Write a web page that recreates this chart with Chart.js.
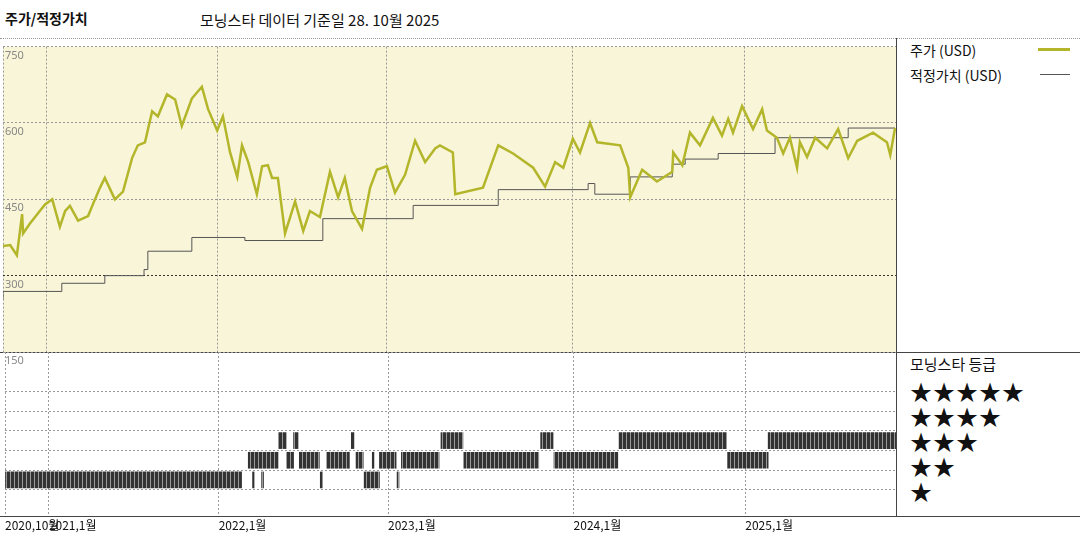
<!DOCTYPE html>
<html>
<head>
<meta charset="utf-8">
<script src="https://cdn.jsdelivr.net/npm/chart.js@4"></script>
<style>
  body { margin:0; width:1080px; height:540px; background:#fff; position:relative; overflow:hidden;
         font-family:"Noto Sans CJK KR","Noto Sans",sans-serif; color:#111; }
  .abs { position:absolute; }
  .txt { font-size:14px; white-space:nowrap; }
  .star { font-size:22px; letter-spacing:1px; line-height:22px; }
</style>
</head>
<body>
<div class="abs txt" style="left:5px;top:8px;font-weight:bold;">주가/적정가치</div>
<div class="abs txt" style="left:200px;top:9px;font-size:15px;">모닝스타 데이터 기준일 28. 10월 2025</div>

<!-- frame lines -->
<div class="abs" style="left:0;top:38px;width:1080px;border-top:1px dotted #999;"></div>
<div class="abs" style="left:0;top:352px;width:1080px;border-top:1px solid #444;"></div>
<div class="abs" style="left:0;top:516px;width:1080px;border-top:1px solid #444;"></div>
<div class="abs" style="left:896px;top:38px;height:478px;border-left:1px solid #444;"></div>

<!-- legend -->
<div class="abs txt" style="left:910px;top:40px;">주가 (USD)</div>
<div class="abs" style="left:1038px;top:48px;width:32px;border-top:3px solid #b3b62a;"></div>
<div class="abs txt" style="left:910px;top:65px;">적정가치 (USD)</div>
<div class="abs" style="left:1040px;top:74px;width:30px;border-top:1px solid #555;"></div>
<div class="abs txt" style="left:910px;top:353px;font-size:15px;">모닝스타 등급</div>
<div class="abs star" style="left:910px;top:379px;">★★★★★</div>
<div class="abs star" style="left:910px;top:404px;">★★★★</div>
<div class="abs star" style="left:910px;top:429px;">★★★</div>
<div class="abs star" style="left:910px;top:454px;">★★</div>
<div class="abs star" style="left:910px;top:479px;">★</div>

<canvas id="bottomChart" class="abs" style="left:3px;top:352px;width:893px;height:188px;"></canvas>
<canvas id="topChart" class="abs" style="left:3px;top:38px;width:893px;height:332px;"></canvas>

<script>
// x values are days since 2020-10-01
const tickDays = [0, 92, 448, 803, 1192, 1552];
const tickLabels = ['2020,10월', '2021,1월', '2022,1월', '2023,1월', '2024,1월', '2025,1월'];

const priceDays = [0,15,29,40,42,56,77,88,103,119,130,140,157,178,188,203,213,234,251,270,282,297,312,324,343,360,374,395,416,429,448,460,475,490,500,513,531,542,554,563,575,590,611,628,642,663,684,701,715,730,751,768,782,803,820,841,862,883,904,914,941,946,1004,1036,1067,1109,1134,1155,1172,1192,1207,1228,1243,1291,1308,1312,1337,1368,1400,1402,1421,1437,1458,1485,1504,1517,1527,1546,1569,1588,1598,1619,1632,1646,1661,1667,1682,1699,1724,1747,1768,1787,1820,1849,1856,1866];
const priceValues = [358,360,340,421,383,402,427,440,450,396,427,437,408,417,440,473,492,450,465,531,556,562,623,613,656,646,594,648,671,627,585,613,542,494,556,523,460,515,517,492,492,383,446,388,427,415,504,454,492,427,392,473,508,515,463,498,565,523,550,556,542,460,473,556,540,512,475,523,512,569,542,600,562,556,512,454,508,485,504,542,517,581,556,610,575,608,581,633,588,627,585,571,540,571,512,562,533,571,550,588,531,565,581,562,537,590];

const fairDays = [0,123,213,295,303,395,506,669,858,1036,1224,1238,1312,1400,1427,1496,1615,1768,1845,1866];
const fairValues = [254,269,285,300,312,348,375,369,412,438,469,481,460,494,519,529,540,571,590,590];

// star rating periods: [startDay, endDay]
const rating1 = [[0,496],[519,523],[538,542],[661,666],[753,785],[822,826]];
const rating2 = [[510,573],[590,605],[617,659],[674,722],[736,751],[770,774],[785,820],[831,910],[962,1119],[1151,1285],[1515,1600]];
const rating3 = [[573,590],[605,615],[726,732],[914,960],[1123,1149],[1287,1513],[1600,1868]];

const xMax = 1868;
const priceTicks = [150, 300, 450, 600, 750];

const yearGrid = { color: '#999', drawTicks: false };
const dashBorder = { display: false, dash: [2, 2] };

const bgPlugin = {
    id: 'bg',
    beforeDraw(chart, args, opts) {
        const a = chart.chartArea;
        chart.ctx.save();
        chart.ctx.fillStyle = opts.color;
        chart.ctx.fillRect(a.left, a.top, a.right - a.left, a.bottom - a.top);
        chart.ctx.restore();
    }
};

new Chart(document.getElementById('topChart'), {
    type: 'line',
    data: {
        datasets: [
            {
                data: priceDays.map((d, i) => ({ x: d, y: priceValues[i] })),
                borderColor: '#b3b62a', borderWidth: 2.5, pointRadius: 0, tension: 0
            },
            {
                data: fairDays.map((d, i) => ({ x: d, y: fairValues[i] })),
                borderColor: '#555', borderWidth: 1, pointRadius: 0, stepped: 'after'
            }
        ]
    },
    options: {
        responsive: false, animation: false, devicePixelRatio: 1,
        layout: { padding: { bottom: 18 } },
        plugins: { legend: { display: false }, tooltip: { enabled: false }, bg: { color: '#f9f5d8' } },
        scales: {
            x: {
                type: 'linear', min: 0, max: xMax,
                afterBuildTicks: s => { s.ticks = tickDays.map(v => ({ value: v })); },
                afterFit: s => { s.height = 0; },
                ticks: { display: false },
                grid: yearGrid, border: dashBorder
            },
            y: {
                min: 150, max: 750,
                afterBuildTicks: s => { s.ticks = priceTicks.map(v => ({ value: v })); },
                afterFit: s => { s.width = 0; },
                ticks: { mirror: true, labelOffset: 9, padding: 2, color: '#888', font: { size: 11, family: 'Noto Sans' } },
                grid: { color: c => c.tick && c.tick.value === 300 ? '#333' : '#999', drawTicks: false },
                border: dashBorder
            }
        }
    },
    plugins: [bgPlugin]
});

// striped fill for the rating bars
const pc = document.createElement('canvas');
pc.width = 4; pc.height = 4;
const pctx = pc.getContext('2d');
pctx.fillStyle = '#333'; pctx.fillRect(0, 0, 4, 4);
pctx.fillStyle = '#999'; pctx.fillRect(3, 0, 1, 4);
const stripe = pctx.createPattern(pc, 'repeat');

const ratingData = [
    ...rating1.map(r => ({ x: r, y: 1 })),
    ...rating2.map(r => ({ x: r, y: 2 })),
    ...rating3.map(r => ({ x: r, y: 3 }))
];

new Chart(document.getElementById('bottomChart'), {
    type: 'bar',
    data: {
        datasets: [{
            data: ratingData,
            backgroundColor: stripe, borderWidth: 0, barThickness: 16, grouped: false
        }]
    },
    options: {
        indexAxis: 'y',
        responsive: false, animation: false, devicePixelRatio: 1,
        plugins: { legend: { display: false }, tooltip: { enabled: false } },
        scales: {
            x: {
                type: 'linear', min: 0, max: xMax,
                afterBuildTicks: s => { s.ticks = tickDays.map(v => ({ value: v })); },
                afterFit: s => { s.height = 24; },
                ticks: {
                    align: 'start', padding: 2, color: '#111', maxRotation: 0, autoSkip: false,
                    font: { size: 12, family: 'Noto Sans CJK KR' },
                    callback: (v) => tickLabels[tickDays.indexOf(v)]
                },
                grid: yearGrid, border: dashBorder
            },
            y: {
                type: 'linear', min: 0, max: 6.67,
                afterBuildTicks: s => { s.ticks = [1, 2, 3, 4, 5].map(v => ({ value: v })); },
                afterFit: s => { s.width = 0; },
                ticks: { display: false },
                grid: { color: '#999', drawTicks: false },
                border: dashBorder
            }
        }
    }
});
</script>
</body>
</html>
